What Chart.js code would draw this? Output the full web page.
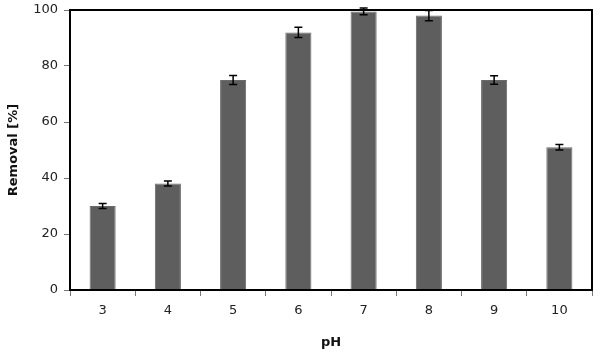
<!DOCTYPE html>
<html>
<head>
<meta charset="utf-8">
<script src="https://cdn.jsdelivr.net/npm/chart.js@4/dist/chart.umd.min.js"></script>
<style>
  body { margin: 0; background: #fff; }
  #wrap { width: 600px; height: 354px; }
</style>
</head>
<body>
<div id="wrap"><canvas id="removal-chart"></canvas></div>
<script>
const phLabels = ['3', '4', '5', '6', '7', '8', '9', '10'];
const removal = [30, 38, 75, 92, 99.5, 98, 75, 51];
const removalErr = [0.9, 0.9, 1.6, 1.8, 1.2, 1.8, 1.5, 1];
const yTicks = [0, 20, 40, 60, 80, 100];

// error bars + frame drawn on top of bars
const extras = {
   id: 'extras',
   afterDatasetsDraw(chart) {
      const { ctx, chartArea, scales } = chart;
      const meta = chart.getDatasetMeta(0);
      ctx.save();
      ctx.strokeStyle = '#000';
      ctx.lineWidth = 1.5;
      meta.data.forEach((bar, i) => {
         const yHi = scales.y.getPixelForValue(removal[i] + removalErr[i]);
         const yLo = scales.y.getPixelForValue(removal[i] - removalErr[i]);
         ctx.beginPath();
         ctx.moveTo(bar.x, yHi);
         ctx.lineTo(bar.x, yLo);
         ctx.moveTo(bar.x - 4, yHi);
         ctx.lineTo(bar.x + 4, yHi);
         ctx.moveTo(bar.x - 4, yLo);
         ctx.lineTo(bar.x + 4, yLo);
         ctx.stroke();
      });
      ctx.lineWidth = 2;
      ctx.strokeRect(chartArea.left, chartArea.top, chartArea.right - chartArea.left, chartArea.bottom - chartArea.top);
      ctx.restore();
   }
};

new Chart(document.getElementById('removal-chart'), {
   type: 'bar',
   data: {
      labels: phLabels,
      datasets: [{
         data: removal,
         backgroundColor: '#5e5e5e',
         borderColor: '#6a6a6a',
         borderWidth: 1,
         categoryPercentage: 1,
         barPercentage: 0.4
      }]
   },
   options: {
      responsive: true,
      maintainAspectRatio: false,
      animation: false,
      layout: { padding: { top: 10, right: 8, left: 2, bottom: 0 } },
      plugins: {
         legend: { display: false },
         tooltip: { enabled: false }
      },
      scales: {
         x: {
            afterFit: (s) => { s.height = 64; },
            grid: { drawOnChartArea: false, offset: true, tickLength: 6, color: '#777' },
            border: { display: true, color: '#000', width: 2 },
            ticks: { color: '#222', font: { family: 'DejaVu Sans', size: 13 }, padding: 7 },
            title: { display: true, text: 'pH', color: '#111', font: { family: 'DejaVu Sans', size: 13, weight: 'bold' }, padding: { top: 4 } }
         },
         y: {
            min: 0,
            max: 100,
            afterFit: (s) => { s.width = 68; s.paddingTop = 0; },
            afterBuildTicks: (s) => { s.ticks = yTicks.map(v => ({ value: v })); },
            grid: { drawOnChartArea: false, tickLength: 6, color: '#777' },
            border: { display: true, color: '#000', width: 2 },
            ticks: { color: '#222', font: { family: 'DejaVu Sans', size: 13 }, padding: 6 },
            title: { display: true, text: 'Removal [%]', color: '#111', font: { family: 'DejaVu Sans', size: 13, weight: 'bold' }, padding: { bottom: 4 } }
         }
      }
   },
   plugins: [extras]
});
</script>
</body>
</html>
